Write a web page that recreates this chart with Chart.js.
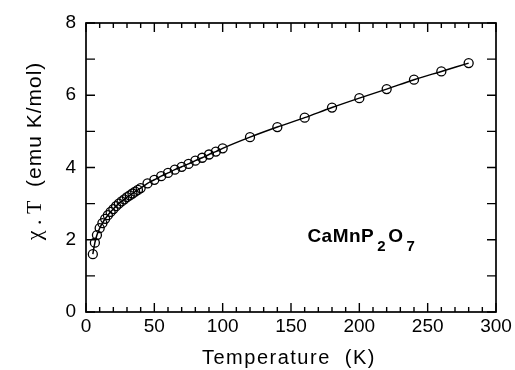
<!DOCTYPE html>
<html>
<head>
<meta charset="utf-8">
<script src="https://cdn.jsdelivr.net/npm/chart.js@4.4.0/dist/chart.umd.min.js"></script>
<style>
  html, body { margin: 0; padding: 0; background: #fff; }
</style>
</head>
<body>
<canvas id="chart" width="515" height="370"></canvas>
<script>
// temperature (K) and chi*T (emu K/mol)
const temps = [5, 6.5, 8, 10, 12, 14, 16, 18, 20, 22, 24, 26, 28, 30, 32, 34, 36, 38, 40,
  45, 50, 55, 60, 65, 70, 75, 80, 85, 90, 95, 100,
  120, 140, 160, 180, 200, 220, 240, 260, 280];
const chiT = [1.60, 1.92, 2.13, 2.32, 2.46, 2.58, 2.68, 2.77, 2.85, 2.93, 3.00, 3.06, 3.12, 3.18, 3.23, 3.28, 3.33, 3.38, 3.43,
  3.56, 3.66, 3.76, 3.85, 3.94, 4.02, 4.10, 4.19, 4.27, 4.36, 4.44, 4.53,
  4.84, 5.12, 5.38, 5.66, 5.92, 6.17, 6.43, 6.66, 6.89];

const xTickLabels = [0, 50, 100, 150, 200, 250, 300];
const yTickLabels = [0, 2, 4, 6, 8];
const xTitle = 'Temperature  (K)';
const yTitleSym = 'χ . T';
const yTitleUnit = '  (emu K/mol)';
// [text, is subscript]
const compound = [['CaMnP', false], ['2', true], ['O', false], ['7', true]];

const SANS = '"Liberation Sans", Arial, sans-serif';

// frame, inward ticks, titles and the compound label
const decorations = {
  id: 'decorations',
  afterDraw(chart) {
    const { ctx, chartArea: a, scales: { x, y } } = chart;
    ctx.save();
    ctx.strokeStyle = '#000';
    ctx.lineWidth = 1.7;
    ctx.strokeRect(a.left, a.top, a.right - a.left, a.bottom - a.top);

    ctx.lineWidth = 1.4;
    ctx.beginPath();
    for (let t = 0; t <= 300; t += 10) {
      const px = x.getPixelForValue(t);
      const len = t % 50 === 0 ? 9 : 5;
      ctx.moveTo(px, a.bottom); ctx.lineTo(px, a.bottom - len);
      ctx.moveTo(px, a.top); ctx.lineTo(px, a.top + len);
    }
    for (let v = 0; v <= 8; v += 1) {
      const py = y.getPixelForValue(v);
      ctx.moveTo(a.left, py); ctx.lineTo(a.left + 9, py);
      ctx.moveTo(a.right, py); ctx.lineTo(a.right - 9, py);
    }
    ctx.stroke();

    ctx.fillStyle = '#000';
    // x title
    ctx.font = '20px ' + SANS;
    ctx.letterSpacing = '1.5px';
    ctx.textAlign = 'center';
    ctx.textBaseline = 'alphabetic';
    ctx.fillText(xTitle, (a.left + a.right) / 2 - 2, 364);

    // y title, rotated
    ctx.translate(41, 151);
    ctx.rotate(-Math.PI / 2);
    ctx.font = '22px "Liberation Serif", "DejaVu Serif", serif';
    ctx.letterSpacing = '0px';
    const w1 = ctx.measureText(yTitleSym).width;
    ctx.font = '21px ' + SANS;
    ctx.letterSpacing = '1px';
    const w2 = ctx.measureText(yTitleUnit).width;
    ctx.textAlign = 'left';
    const sx = -(w1 + w2) / 2;
    ctx.font = '22px "Liberation Serif", "DejaVu Serif", serif';
    ctx.letterSpacing = '0px';
    ctx.fillText(yTitleSym, sx, 0);
    ctx.font = '21px ' + SANS;
    ctx.letterSpacing = '1px';
    ctx.fillText(yTitleUnit, sx + w1, 0);
    ctx.setTransform(1, 0, 0, 1, 0, 0);

    // compound label
    ctx.letterSpacing = '0.5px';
    let cx = x.getPixelForValue(162);
    const base = y.getPixelForValue(1.94);
    compound.forEach(([txt, sub]) => {
      ctx.font = (sub ? 'bold 15px ' : 'bold 19px ') + SANS;
      const dy = sub ? 9 : 0;
      if (sub) cx += 3;
      ctx.fillText(txt, cx, base + dy);
      cx += ctx.measureText(txt).width + (sub ? 2 : 0);
    });
    ctx.restore();
  }
};

new Chart(document.getElementById('chart'), {
  type: 'line',
  data: {
    labels: temps,
    datasets: [{
      data: temps.map((t, i) => ({ x: t, y: chiT[i] })),
      borderColor: '#000',
      borderWidth: 1.5,
      cubicInterpolationMode: 'monotone',
      pointStyle: 'circle',
      pointRadius: 4.5,
      pointBorderWidth: 1.3,
      pointBorderColor: '#000',
      pointBackgroundColor: 'rgba(0,0,0,0)',
      fill: false
    }]
  },
  plugins: [decorations],
  options: {
    responsive: false,
    animation: false,
    layout: { padding: { left: 0, right: 19, top: 23, bottom: 0 } },
    plugins: { legend: { display: false }, tooltip: { enabled: false } },
    scales: {
      x: {
        type: 'linear',
        min: 0, max: 300,
        afterBuildTicks: s => { s.ticks = xTickLabels.map(v => ({ value: v })); },
        ticks: { color: '#000', font: { family: SANS, size: 19 }, padding: 3, maxRotation: 0 },
        grid: { display: false, drawTicks: false },
        border: { display: false },
        afterFit: s => { s.height = 58; }
      },
      y: {
        min: 0, max: 8,
        afterBuildTicks: s => { s.ticks = yTickLabels.map(v => ({ value: v })); },
        ticks: { color: '#000', font: { family: SANS, size: 19 }, padding: 10 },
        grid: { display: false, drawTicks: false },
        border: { display: false },
        afterFit: s => { s.width = 86; }
      }
    }
  }
});
</script>
</body>
</html>
